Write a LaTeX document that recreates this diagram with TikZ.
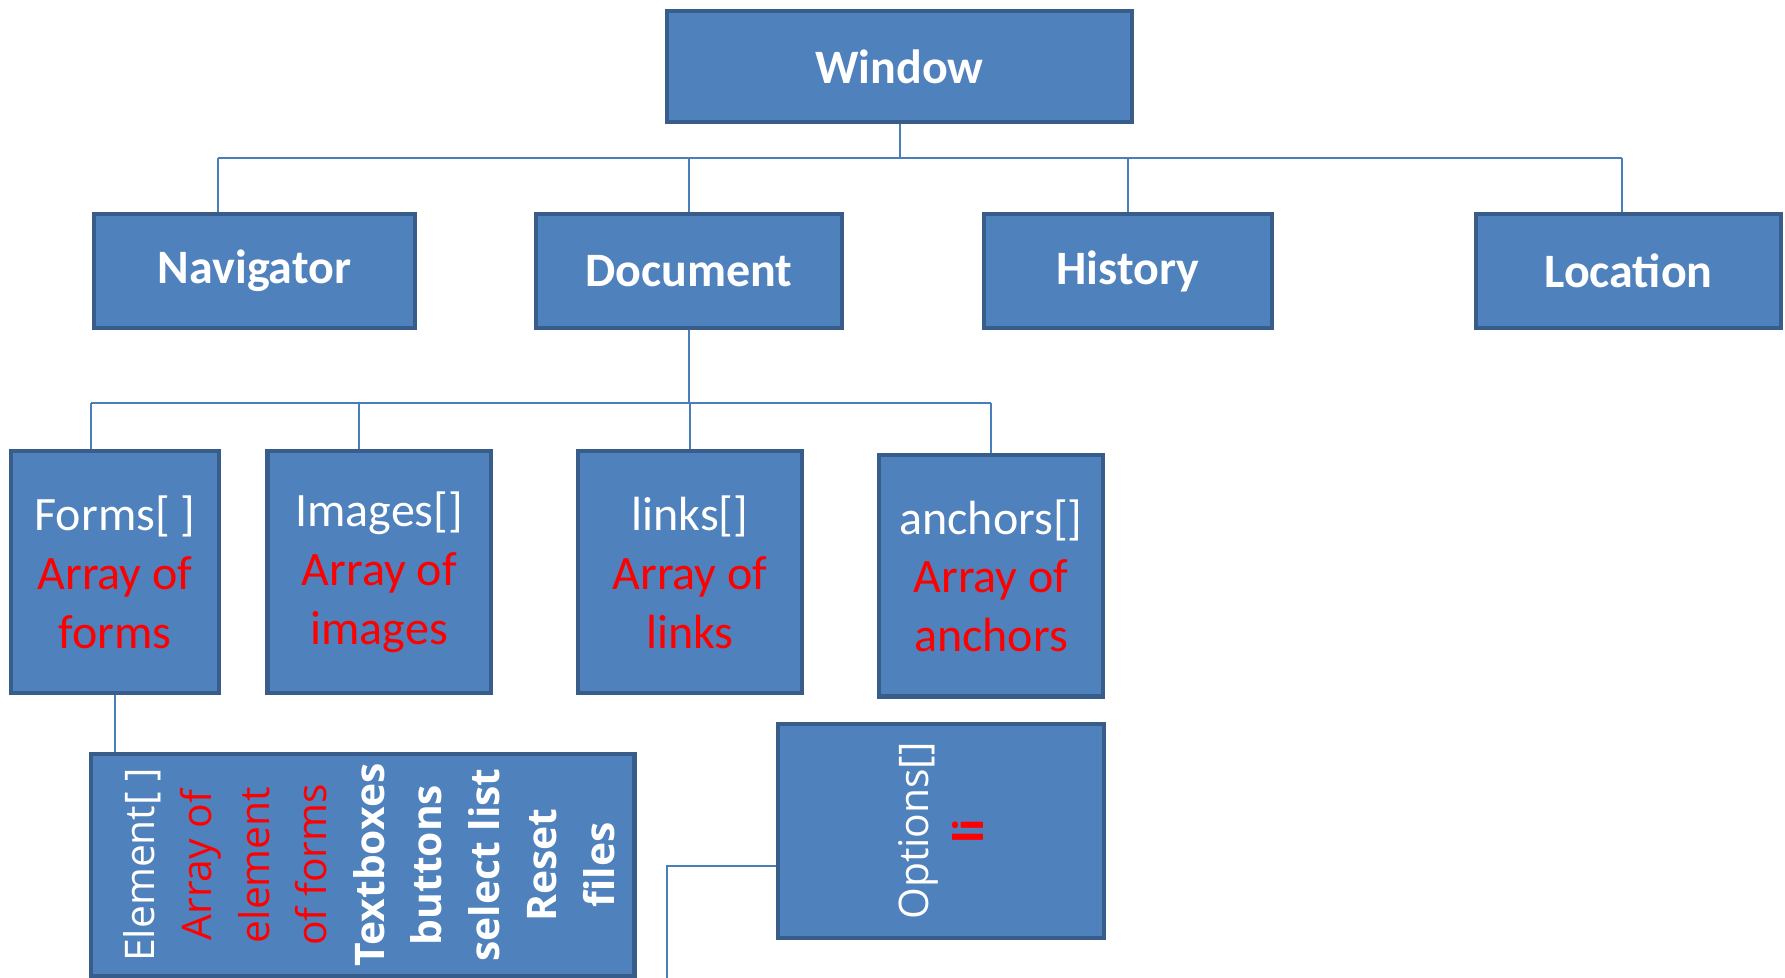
\documentclass[tikz,border=0pt]{standalone}
\usepackage{fontspec}
\setmainfont{Carlito}
\newfontfamily\rotfont{Open Sans}
\usepackage{tikz}
\usetikzlibrary{calc}
\definecolor{boxfill}{HTML}{4F81BD}
\definecolor{boxline}{HTML}{385D8A}
\definecolor{wireblue}{HTML}{4A7EBB}
\tikzset{
 box/.style={draw=boxline,fill=boxfill,line width=2.2pt,text=white,inner sep=0pt,align=center},
 head/.style={box,font=\fontsize{24}{29}\selectfont\bfseries},
 arr/.style={box,font=\fontsize{24}{29.3}\selectfont},
 wire/.style={draw=wireblue,line width=1pt}
}
\newcommand{\redtxt}[1]{\textcolor{red}{#1}}
\begin{document}
\begin{tikzpicture}[x=0.5pt,y=-0.5pt]
 \useasboundingbox (0,0) rectangle (1785,978);
 % top
 \node[head,minimum width=232.5pt,minimum height=55.5pt] (win) at (899.5,66.5) {Window};
 % second row
 \node[head,minimum width=160.5pt,minimum height=57pt] (nav) at (254.5,271) {Navigator};
 \node[head,minimum width=153pt,minimum height=57pt] (doc) at (689,271) {Document};
 \node[head,minimum width=144pt,minimum height=57pt] (hist) at (1128,271) {History};
 \node[head,minimum width=152.5pt,minimum height=57pt] (loc) at (1628.5,271) {Location};
 % arrays
 \node[arr,minimum width=104pt,minimum height=121pt] (forms) at (115,572.3)
  {Forms[ ]\\\redtxt{Array of}\\\redtxt{forms}};
 \node[arr,minimum width=111.8pt,minimum height=121pt] (img) at (379.2,572.3)
  {Images[]\\\redtxt{Array of}\\\redtxt{images}};
 \node[arr,minimum width=112pt,minimum height=121pt] (lnk) at (690,572.3)
  {links[]\\\redtxt{Array of}\\\redtxt{links}};
 \node[arr,minimum width=112pt,minimum height=120.7pt] (anc) at (991,575.7)
  {anchors[]\\\redtxt{Array of}\\\redtxt{anchors}};
 % rotated boxes
 \node[box,minimum width=271.7pt,minimum height=111pt] (elem) at (362.7,865)
  {\hspace*{10pt}\rotatebox{90}{\rotfont\fontsize{20.4}{28.75}\selectfont
   \begin{tabular}{@{}c@{}}
    Element[ ]\\
    \redtxt{Array of}\\
    \redtxt{element}\\
    \redtxt{of forms}\\
    \textbf{Textboxes}\\
    \textbf{buttons}\\
    \textbf{select list}\\
    \textbf{Reset}\\
    \textbf{files}
   \end{tabular}}};
 \node[box,minimum width=163pt,minimum height=107pt] (opt) at (941,831)
  {\hspace*{4pt}\rotatebox{90}{\rotfont\fontsize{20.4}{27.5}\selectfont
   \begin{tabular}{@{}c@{}}
    Options[]\\
    \redtxt{\textbf{li}}
   \end{tabular}}};
 % first bus
 \coordinate (busA) at (217.5,158);
 \coordinate (busB) at (1622,158);
 \draw[wire] (win.south) -- (win.south |- busA);
 \draw[wire] (busA) -- (busB);
 \draw[wire] (busA) -- (busA |- nav.north);
 \draw[wire] (doc.north |- busA) -- (doc.north);
 \draw[wire] (hist.north |- busA) -- (hist.north);
 \draw[wire] (busB) -- (busB |- loc.north);
 % second bus
 \coordinate (busC) at (91,403);
 \coordinate (busD) at (991,403);
 \coordinate (dImg) at (359,403);
 \draw[wire] (doc.south) -- (doc.south |- busC);
 \draw[wire] (busC) -- (busD);
 \draw[wire] (busC) -- (busC |- forms.north);
 \draw[wire] (dImg) -- (dImg |- img.north);
 \draw[wire] (lnk.north |- busC) -- (lnk.north);
 \draw[wire] (busD) -- (busD |- anc.north);
 % lower links
 \draw[wire] (forms.south) -- (forms.south |- elem.north);
 \coordinate (optIn) at ($(opt.west)+(0,35)$);
 \coordinate (optEnd) at (667,990);
 \draw[wire] (optIn) -| (optEnd);
\end{tikzpicture}
\end{document}
